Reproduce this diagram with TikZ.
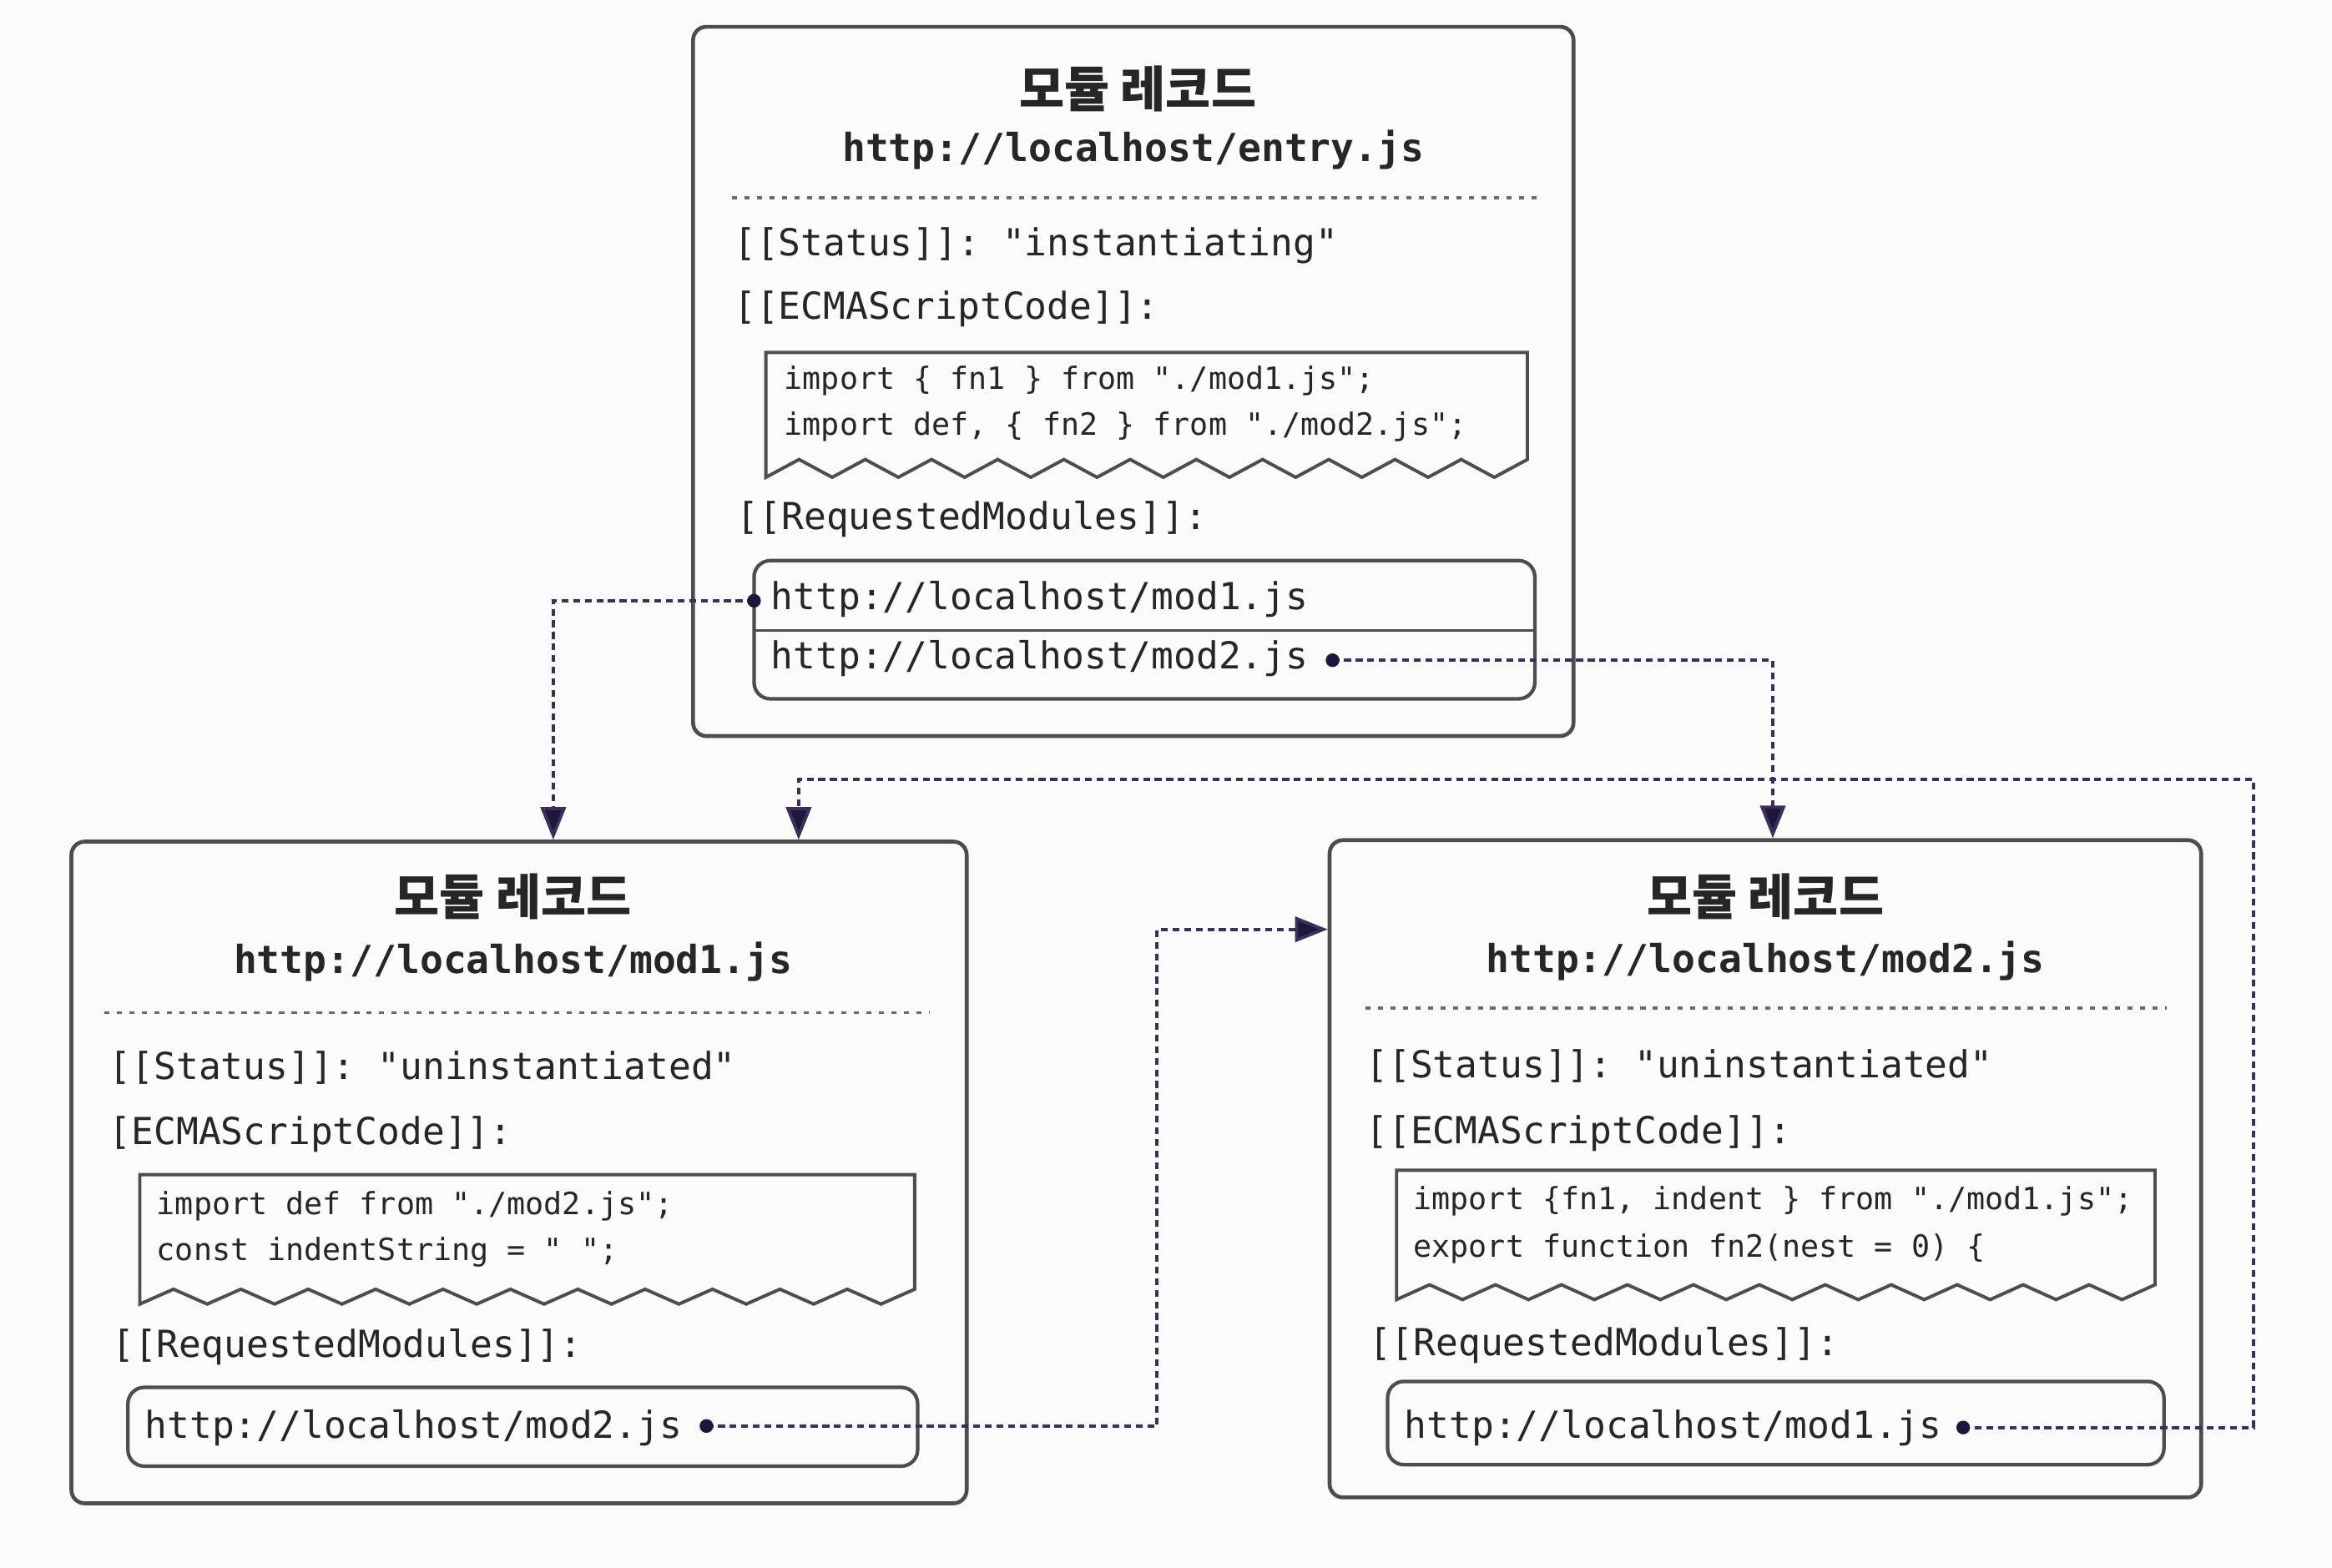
\documentclass[tikz,border=0pt]{standalone}
\usepackage{fontspec}
\setmonofont{DejaVu Sans Mono}
\newfontfamily\kofont{Noto Sans CJK KR}
\usetikzlibrary{arrows.meta,fit}

\definecolor{inkc}{HTML}{262626}
\definecolor{boxc}{HTML}{4D4D4D}
\definecolor{sepc}{HTML}{6A6A6A}
\definecolor{connc}{HTML}{3A2E5C}
\definecolor{dotc}{HTML}{1F173A}
\definecolor{paperc}{HTML}{FBFBFB}

% code box with a torn (zigzag) lower edge: x0, x1, top, peak y, trough y
\newcommand\zigcodebox[5]{%
  \draw[boxline] (#1,#5) -- (#1,#3) -- (#2,#3) -- (#2,#4)
    \foreach \zi in {1,...,23} { -- ({#2-\zi*(#2-#1)/23},{#4+(#5-#4)*mod(\zi,2)}) } -- cycle;
}

\begin{document}
\begin{tikzpicture}[x=0.5pt,y=-0.5pt,
  recbox/.style={draw=boxc, line width=1.3pt, rounded corners=4.5pt, inner sep=0pt},
  listbox/.style={draw=boxc, line width=1.2pt, rounded corners=5.5pt, inner sep=0pt},
  boxline/.style={draw=boxc, line width=1.1pt, line join=miter},
  sepline/.style={draw=sepc, line width=1pt, dash pattern=on 1.8pt off 2.4pt},
  rectitle/.style={font=\kofont\bfseries\fontsize{16.5}{19}\selectfont, text=inkc, inner sep=0pt},
  recurl/.style={font=\ttfamily\bfseries\fontsize{13}{15}\selectfont, text=inkc, inner sep=0pt},
  fieldtxt/.style={font=\ttfamily\fontsize{12.5}{15}\selectfont, text=inkc, anchor=west, inner sep=0pt},
  codeline/.style={font=\ttfamily\fontsize{10.3}{13}\selectfont, text=inkc, anchor=west, inner sep=0pt},
  listitem/.style={font=\ttfamily\fontsize{12.5}{15}\selectfont, text=inkc, anchor=west, inner sep=0pt},
  conn/.style={draw=connc, line width=1.1pt, dash pattern=on 2.3pt off 1.6pt},
  arr/.style={-{Triangle[length=11pt,width=8.5pt,fill=dotc]}},
  dotmark/.style={fill=dotc}
]
\fill[paperc] (0,0) rectangle (1568,1054);
\useasboundingbox (0,0) rectangle (1568,1054);

% ---------- entry.js record ----------
\node[recbox, fit={(466,18) (1058,495)}] (entry) {};
\node[rectitle] (entry-title) at (765,60) {모듈 레코드};
\node[recurl] (entry-url) at (762,101) {http://localhost/entry.js};
\draw[sepline] (492,133) -- (1033,133);
\node[fieldtxt] (entry-status) at (493,165) {[[Status]]: "instantiating"};
\node[fieldtxt] (entry-codelabel) at (493,208) {[[ECMAScriptCode]]:};
\zigcodebox{515}{1027}{237}{309}{321}
\node[codeline] (entry-code1) at (527,256) {import \{ fn1 \} from "./mod1.js";};
\node[codeline] (entry-code2) at (527,287) {import def, \{ fn2 \} from "./mod2.js";};
\node[fieldtxt] (entry-reqlabel) at (495,349) {[[RequestedModules]]:};
\node[listbox, fit={(507,377) (1032,470)}] (entry-list) {};
\draw[boxline] (507,424) -- (1032,424);
\node[listitem] (entry-mod1) at (518,403) {http://localhost/mod1.js};
\node[listitem] (entry-mod2) at (518,443) {http://localhost/mod2.js};
\coordinate (dA) at (507,404);
\coordinate (dB) at (896,444);

% ---------- mod1.js record ----------
\node[recbox, fit={(48,566) (650,1011)}] (modone) {};
\node[rectitle] (modone-title) at (345,603) {모듈 레코드};
\node[recurl] (modone-url) at (345,647) {http://localhost/mod1.js};
\draw[sepline] (70,681) -- (625,681);
\node[fieldtxt] (modone-status) at (73,718) {[[Status]]: "uninstantiated"};
\node[fieldtxt] (modone-codelabel) at (73,763) {[ECMAScriptCode]]:};
\zigcodebox{94}{615}{790}{867}{877}
\node[codeline] (modone-code1) at (105,811) {import def from "./mod2.js";};
\node[codeline] (modone-code2) at (105,842) {const indentString = "\ ";};
\node[fieldtxt] (modone-reqlabel) at (75,906) {[[RequestedModules]]:};
\node[listbox, fit={(86,933) (617,986)}] (modone-list) {};
\node[listitem] (modone-mod2) at (97,960) {http://localhost/mod2.js};
\coordinate (dC) at (475,959);

% ---------- mod2.js record ----------
\node[recbox, fit={(894,565) (1480,1007)}] (modtwo) {};
\node[rectitle] (modtwo-title) at (1187,603) {모듈 레코드};
\node[recurl] (modtwo-url) at (1187,646) {http://localhost/mod2.js};
\draw[sepline] (918,678) -- (1457,678);
\node[fieldtxt] (modtwo-status) at (918,717) {[[Status]]: "uninstantiated"};
\node[fieldtxt] (modtwo-codelabel) at (918,762) {[[ECMAScriptCode]]:};
\zigcodebox{939}{1449}{787}{864}{874}
\node[codeline] (modtwo-code1) at (950,808) {import \{fn1, indent \} from "./mod1.js";};
\node[codeline] (modtwo-code2) at (950,840) {export function fn2(nest = 0) \{};
\node[fieldtxt] (modtwo-reqlabel) at (920,905) {[[RequestedModules]]:};
\node[listbox, fit={(933,929) (1455,985)}] (modtwo-list) {};
\node[listitem] (modtwo-mod1) at (944,960) {http://localhost/mod1.js};
\coordinate (dD) at (1320,960);

% ---------- module references ----------
\coordinate (xA) at (372,0);
\coordinate (xB) at (1192,0);
\coordinate (kC) at (778,625);
\coordinate (kD) at (1515,524);
\coordinate (xE) at (537,0);

\draw[conn, arr] (dA) -| (modone.north -| xA);
\draw[conn, arr] (dB) -| (modtwo.north -| xB);
\draw[conn, arr] (dC) -| (kC) -- (modtwo.west |- kC);
\draw[conn, arr] (dD) -| (kD) -| (modone.north -| xE);

\foreach \d in {dA,dB,dC,dD} \fill[dotmark] (\d) circle (2.3pt);
\end{tikzpicture}
\end{document}
